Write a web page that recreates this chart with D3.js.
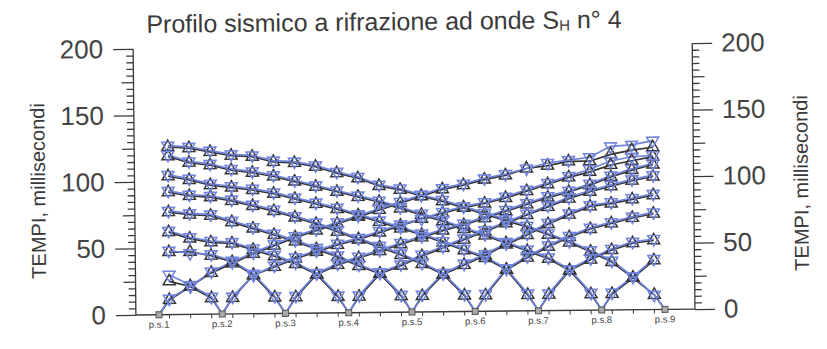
<!DOCTYPE html>
<html><head><meta charset="utf-8">
<script src="https://cdn.jsdelivr.net/npm/d3@7"></script>
<style>body{margin:0;background:#fff} svg{display:block} text{font-family:"Liberation Sans",Arial,sans-serif}</style>
</head><body>
<svg id="c" width="827" height="349"></svg>
<script>
// ---- DATA ----
const shotLabels = ["p.s.1","p.s.2","p.s.3","p.s.4","p.s.5","p.s.6","p.s.7","p.s.8","p.s.9"];
const shotPos = [0,15,30,45,60,75,90,105,120];           // metres
const geoPos = [2.5,7.5,12.5,17.5,22.5,27.5,32.5,37.5,42.5,47.5,52.5,57.5,
                62.5,67.5,72.5,77.5,82.5,87.5,92.5,97.5,102.5,107.5,112.5,117.5];
const yTicks = [0,50,100,150,200];

// travel times (ms) at each geophone, black = triangle up, blue = triangle down
const ps1Black = [11,21,31,38,45,51,57,62,67,72,77,82,87,92,95,99,102,107,109,112,112,117,120,122];
const ps1Blue  = [12,21,32,39,46,52,58,63,68,73,78,83,88,93,96,100,103,107,111,113,115,123,124,127];
const ps2Black = [25,21,12,12,29,35,41,46,51,55,60,65,70,74,78,81,85,90,95,100,104,109,112,115];
const ps2Blue  = [30,22,13,13,29,36,42,47,52,56,61,66,70,75,79,82,86,91,96,101,106,112,115,116];
const ps3Black = [47,47,44,39,29,12,12,29,36,41,46,51,56,61,65,70,75,80,85,89,94,100,105,109];
const ps3Blue  = [48,46,45,40,30,13,13,30,37,42,47,52,57,62,66,71,76,81,86,90,95,101,106,110];
const ps4Black = [62,57,54,53,48,43,37,29,12,12,29,35,42,48,54,60,66,72,78,84,89,93,97,100];
const ps4Blue  = [63,58,55,54,49,44,38,30,13,13,30,36,43,49,55,61,67,73,79,85,90,94,98,101];
const ps5Black = [77,75,74,69,64,59,54,48,42,35,29,12,12,28,35,42,50,57,65,72,78,80,83,86];
const ps5Blue  = [78,76,75,70,65,60,55,49,43,36,30,13,13,29,36,43,51,58,66,73,79,81,84,87];
const ps6Black = [92,89,88,85,81,77,72,67,61,55,49,43,36,28,12,12,31,40,48,55,61,65,69,72];
const ps6Blue  = [93,90,89,86,82,78,73,68,62,56,50,44,37,29,13,13,32,41,49,56,62,66,70,73];
const ps7Black = [104,101,97,95,93,90,86,82,78,73,68,63,58,52,46,40,31,12,12,30,38,45,50,52];
const ps7Blue  = [105,102,98,96,94,91,87,83,79,74,69,64,59,53,47,41,32,13,13,31,39,46,51,53];
const ps8Black = [119,114,112,108,106,103,99,95,91,87,83,78,73,68,62,57,51,45,39,30,12,12,24,37];
const ps8Blue  = [120,115,113,109,107,104,100,96,92,88,84,79,74,69,63,58,52,46,40,31,13,13,25,38];
const ps9Black = [126,125,122,119,118,114,113,110,105,101,95,92,87,83,78,73,68,63,57,51,44,36,24,11];
const ps9Blue  = [127,126,123,120,119,115,114,111,106,102,96,93,88,84,79,74,69,64,58,52,45,37,25,11];

const blackSeries = [ps1Black,ps2Black,ps3Black,ps4Black,ps5Black,ps6Black,ps7Black,ps8Black,ps9Black];
const blueSeries  = [ps1Blue,ps2Blue,ps3Blue,ps4Blue,ps5Blue,ps6Blue,ps7Blue,ps8Blue,ps9Blue];

// ---- CHART ----
const BLACK = "#353535", BLUE = "#7084dc", AXIS = "#3a3a3a";
const svg = d3.select("#c");
const root = svg.append("g").attr("transform","rotate(-0.6 415 180)");

const axL = 134.5, axR = 693.6;
const x = d3.scaleLinear().domain([0,120]).range([157.6,663.6]);
const y = d3.scaleLinear().domain([0,200]).range([312,46]);

// title
const title = root.append("text").attr("x",148).attr("y",30).attr("font-size",25).attr("fill",AXIS);
title.append("tspan").text("Profilo sismico a rifrazione ad onde S");
title.append("tspan").attr("font-size",15).attr("dy",2).text("H");
title.append("tspan").attr("dy",-2).text(" n° 4");

// y axes
function drawYAxis(xpos, side){
  const gAx = root.append("g").attr("transform",`translate(${xpos},0)`);
  const major = side==="left" ? d3.axisLeft(y) : d3.axisRight(y);
  major.tickValues(yTicks).tickSize(20).tickPadding(side==="left"?10:9).tickFormat(d3.format("d"));
  gAx.call(major);
  const minorVals = d3.range(0,201,5).filter(v=>v%50!==0);
  const minor = side==="left" ? d3.axisLeft(y) : d3.axisRight(y);
  minor.tickValues(minorVals).tickSize(0).tickFormat("");
  const gm = gAx.append("g").call(minor);
  gm.selectAll(".tick line").attr("x2", d => (side==="left"?-1:1) * (d%25===0 ? 12 : 7));
  gm.select(".domain").remove();
  gAx.selectAll("path,line").attr("stroke",AXIS).attr("stroke-width",1.3);
  gAx.selectAll("text").attr("font-size",26).attr("fill","#444")
     .attr("font-family",'"Liberation Sans",Arial,sans-serif');
  gAx.select(".domain").attr("d", `M0,${y(0)}V${y(200)}`);
}
drawYAxis(axL,"left");
drawYAxis(axR,"right");

// x axis baseline + geophone ticks
root.append("line").attr("x1",axL).attr("x2",axR).attr("y1",y(0)).attr("y2",y(0))
  .attr("stroke",AXIS).attr("stroke-width",1.4);
root.append("g").selectAll("line").data(geoPos).join("line")
  .attr("x1",d=>x(d)).attr("x2",d=>x(d)).attr("y1",y(0)).attr("y2",y(0)+4)
  .attr("stroke",AXIS).attr("stroke-width",1);
root.append("g").selectAll("text").data(shotLabels).join("text")
  .attr("x",(d,i)=>x(shotPos[i])).attr("y",y(0)+13).attr("text-anchor","middle")
  .attr("font-size",9.5).attr("fill","#444").text(d=>d);

// axis titles
root.append("text").attr("transform",`translate(45,${(y(0)+y(200))/2+8}) rotate(-90)`)
  .attr("text-anchor","middle").attr("font-size",20).attr("fill",AXIS).text("TEMPI, millisecondi");
root.append("text").attr("transform",`translate(808,${(y(0)+y(200))/2+8}) rotate(-90)`)
  .attr("text-anchor","middle").attr("font-size",20).attr("fill",AXIS).text("TEMPI, millisecondi");

// series
const line = d3.line().x(d=>x(d.x)).y(d=>y(d.t));
function pts(series,k){
  const p = geoPos.map((gx,i)=>({x:gx,t:series[i]}));
  p.push({x:shotPos[k],t:0});
  return p.sort((a,b)=>a.x-b.x);
}
const plot = root.append("g");
blackSeries.forEach((s,k)=>plot.append("path").attr("d",line(pts(s,k))).attr("fill","none")
  .attr("stroke",BLACK).attr("stroke-width",1.7));
blueSeries.forEach((s,k)=>plot.append("path").attr("d",line(pts(s,k))).attr("fill","none")
  .attr("stroke",BLUE).attr("stroke-width",1.7));

const tri = d3.symbol(d3.symbolTriangle, 62)();
blackSeries.forEach(s=>{
  plot.append("g").selectAll("path").data(s).join("path")
    .attr("d",tri).attr("transform",(d,i)=>`translate(${x(geoPos[i])},${y(d)})`)
    .attr("fill","none").attr("stroke",BLACK).attr("stroke-width",1.5);
});
blueSeries.forEach(s=>{
  plot.append("g").selectAll("path").data(s).join("path")
    .attr("d",tri).attr("transform",(d,i)=>`translate(${x(geoPos[i])},${y(d)}) rotate(180)`)
    .attr("fill","none").attr("stroke",BLUE).attr("stroke-width",1.5);
});
// shot points
plot.append("g").selectAll("rect").data(shotPos).join("rect")
  .attr("x",d=>x(d)-3).attr("y",y(0)-3).attr("width",6).attr("height",6)
  .attr("fill","#aaa").attr("stroke","#555").attr("stroke-width",1);
</script>
</body></html>
